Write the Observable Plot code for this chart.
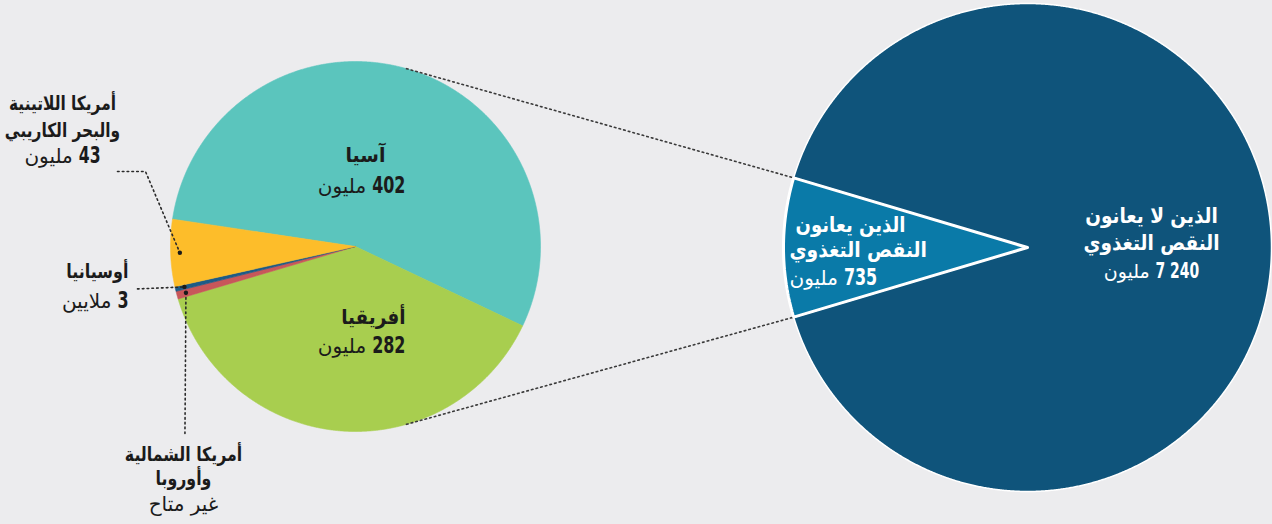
<!DOCTYPE html>
<html><head><meta charset="utf-8">
<script src="https://cdn.jsdelivr.net/npm/d3@7"></script>
<script src="https://cdn.jsdelivr.net/npm/@observablehq/plot@0.6"></script>
<style>
html,body{margin:0;padding:0;background:#ececee;}
#chart{width:1272px;height:524px;overflow:hidden}
#chart svg text{font-family:"DejaVu Sans",sans-serif;}
</style></head><body><div id="chart"></div>
<script>
// ---- data ----
const regions = ["آسيا", "أفريقيا", "أمريكا الشمالية وأوروبا", "أوسيانيا", "أمريكا اللاتينية والبحر الكاريبي"];
const hungryMillions = [402, 282, 5, 3, 43]; // North America & Europe: not available, slice estimated
const regionColors = ["#5bc5bd", "#a8ce4f", "#c8575a", "#1d5b87", "#fdbd2a"];
const regionNameLines = [["آسيا"], ["أفريقيا"], ["أمريكا الشمالية", "وأوروبا"], ["أوسيانيا"], ["أمريكا اللاتينية", "والبحر الكاريبي"]];
const regionValueLabels = ["402 مليون", "282 مليون", "غير متاح", "3 ملايين", "43 مليون"];

const globalGroups = ["الذين يعانون النقص التغذوي", "الذين لا يعانون النقص التغذوي"];
const globalMillions = [735, 7240];
const globalColors = ["#0a7aa8", "#0f547b"];
const globalNameLines = [["الذين يعانون", "النقص التغذوي"], ["الذين لا يعانون", "النقص التغذوي"]];
const globalValueLabels = ["735 مليون", "7 240 مليون"];

// ---- layout ----
const W = 1272, H = 524, deg = Math.PI / 180;
const SMALL = {cx: 355, cy: 246, r: 185, start: -81.5 * deg};
const bigShare = globalMillions[0] / d3.sum(globalMillions);
const BIG = {cx: 1027, cy: 247, r: 244, start: -90 * deg - bigShare * Math.PI};

const pt = (g, a, r) => ({x: g.cx + r * Math.sin(a), y: g.cy - r * Math.cos(a)});
function makeArcs(names, values, colors, g) {
  const rows = names.map((n, i) => ({name: n, value: values[i], color: colors[i], i}));
  return d3.pie().sort(null).value(d => d.value).startAngle(g.start).endAngle(g.start + 2 * Math.PI)(rows);
}
function poly(arc, g) {
  const pts = [{x: g.cx, y: g.cy}];
  const n = Math.max(2, Math.ceil((arc.endAngle - arc.startAngle) / (0.25 * deg)));
  for (let k = 0; k <= n; k++) pts.push(pt(g, arc.startAngle + (arc.endAngle - arc.startAngle) * k / n, g.r));
  pts.push({x: g.cx, y: g.cy});
  return pts;
}
const smallArcs = makeArcs(regions, hungryMillions, regionColors, SMALL);
const bigArcs = makeArcs(globalGroups, globalMillions, globalColors, BIG);
const mid = a => (a.startAngle + a.endAngle) / 2;

// connectors between pies
const hungryArc = bigArcs[0];
const connTop = [pt(SMALL, 16 * deg, SMALL.r), pt(BIG, hungryArc.endAngle, BIG.r)];
const connBot = [pt(SMALL, 164 * deg, SMALL.r), pt(BIG, hungryArc.startAngle, BIG.r)];

// leader dots for the small slices
const dotNA = pt(SMALL, mid(smallArcs[2]), 0.95 * SMALL.r);
const dotOc = pt(SMALL, mid(smallArcs[3]), 0.95 * SMALL.r);
const dotLA = pt(SMALL, mid(smallArcs[4]), 0.95 * SMALL.r);
const leaders = [
  [{x: 117, y: 171}, {x: 145, y: 171}, dotLA],
  [{x: 137, y: dotOc.y + 2}, dotOc],
  [dotNA, {x: dotNA.x - 1, y: 434}]
];

// label placement (sx = horizontal condensing of the line)
const dark = "#1b1b1b";
const labels = [
  {lines: [regionNameLines[0][0], regionValueLabels[0]], anchor: "end", xs: [385, 405], ys: [155, 186], w: ["bold", "normal"], sizes: [20, 20], sx: [0.95, 1], num: 23.5, fill: dark},
  {lines: [regionNameLines[1][0], regionValueLabels[1]], anchor: "end", xs: [405, 405], ys: [317, 346], w: ["bold", "normal"], sizes: [20, 20], sx: [0.92, 1], num: 23.5, fill: dark},
  {lines: [...regionNameLines[4], regionValueLabels[4]], anchor: "middle", xs: [62, 62, 62], ys: [103, 130, 156], w: ["bold", "bold", "normal"], sizes: [19.5, 19.5, 20], sx: [0.79, 0.79, 1], num: 23, fill: dark},
  {lines: [regionNameLines[3][0], regionValueLabels[3]], anchor: "end", xs: [128, 128], ys: [271, 301], w: ["bold", "normal"], sizes: [19.5, 20], sx: [0.82, 1], num: 23.5, fill: dark},
  {lines: [...regionNameLines[2], regionValueLabels[2]], anchor: "middle", xs: [183, 183, 183], ys: [454, 478, 504], w: ["bold", "bold", "normal"], sizes: [19.5, 19.5, 20], sx: [0.81, 0.81, 1], num: 23.5, fill: dark},
  {lines: [...globalNameLines[1], globalValueLabels[1]], anchor: "middle", xs: [1151, 1151, 1151], ys: [216, 243, 271], w: ["bold", "bold", "normal"], sizes: [21, 21, 19], sx: [0.88, 0.88, 1], num: 20.5, fill: "#ffffff"},
  {lines: [...globalNameLines[0], globalValueLabels[0]], anchor: "start", xs: [795, 789, 789], ys: [225, 250, 278], w: ["bold", "bold", "normal"], sizes: [21, 21, 20], sx: [0.86, 0.89, 1], num: 23.5, fill: "#ffffff"}
];
const lineSpecs = [];
labels.forEach(L => L.lines.forEach((t, k) => lineSpecs.push({
  t, x: L.xs[k], y: L.ys[k], anchor: L.anchor, size: L.sizes[k], w: L.w[k], sx: L.sx[k], num: L.num, fill: L.fill
})));

const marks = [];
// small pie
smallArcs.forEach(a => marks.push(Plot.line(poly(a, SMALL), {x: "x", y: "y", fill: a.data.color, stroke: a.data.color, strokeWidth: 0.6, curve: "linear"})));
// connectors
[connTop, connBot].forEach(c => marks.push(Plot.line(c, {x: "x", y: "y", stroke: "#3a3a3a", strokeWidth: 1.6, strokeDasharray: "1.6,3.2"})));
// big pie: dark part then highlighted slice
marks.push(Plot.line(poly(bigArcs[1], BIG), {x: "x", y: "y", fill: bigArcs[1].data.color, stroke: "#ffffff", strokeWidth: 1.5, curve: "linear"}));
marks.push(Plot.line(poly(bigArcs[0], BIG), {x: "x", y: "y", fill: bigArcs[0].data.color, stroke: "#ffffff", strokeWidth: 3, strokeLinejoin: "miter", curve: "linear"}));
// leaders
leaders.forEach(l => marks.push(Plot.line(l, {x: "x", y: "y", stroke: "#2a2a2a", strokeWidth: 1.6, strokeDasharray: "1.6,3.2"})));
marks.push(Plot.dot([dotLA, dotOc, dotNA], {x: "x", y: "y", r: 2.2, fill: "#1a1a1a"}));
// labels (one text mark per line, in lineSpecs order)
lineSpecs.forEach(s => marks.push(Plot.text([s], {
  x: "x", y: "y", text: "t", textAnchor: s.anchor, fill: s.fill, fontSize: s.size, fontWeight: s.w
})));

const chart = Plot.plot({
  width: W, height: H, margin: 0,
  x: {domain: [0, W], range: [0, W], axis: null},
  y: {domain: [0, H], range: [0, H], axis: null},
  style: {background: "transparent", overflow: "visible"},
  marks
});
document.getElementById("chart").appendChild(chart);

// typographic finishing: condensed lines, bold condensed numbers before the unit word
const NSX = 0.68, svgns = "http://www.w3.org/2000/svg";
const texts = Array.from(chart.querySelectorAll("text"));
lineSpecs.forEach((s, i) => {
  const text = texts[i];
  if (!text) return;
  const g = text.parentNode;
  const m = s.t.match(/^(\d[\d ]*) (\D+)$/);
  text.removeAttribute("x"); text.removeAttribute("y"); text.removeAttribute("transform");
  text.setAttribute("dy", (0.32 * s.size).toFixed(2));
  if (!m) {
    text.setAttribute("text-anchor", s.anchor);
    text.setAttribute("transform", `translate(${s.x},${s.y}) scale(${s.sx},1)`);
    return;
  }
  text.textContent = m[2];
  text.setAttribute("text-anchor", "start");
  const wordW = text.getComputedTextLength();
  const num = document.createElementNS(svgns, "text");
  num.setAttribute("font-weight", "bold");
  num.setAttribute("font-size", s.num);
  num.setAttribute("text-anchor", "start");
  num.setAttribute("dy", (0.32 * s.size).toFixed(2));
  num.textContent = m[1];
  g.appendChild(num);
  const numW = num.getComputedTextLength() * NSX;
  const gap = 0.3 * s.size;
  const total = wordW + gap + numW;
  const left = s.anchor === "end" ? s.x - total : s.anchor === "middle" ? s.x - total / 2 : s.x;
  text.setAttribute("transform", `translate(${left.toFixed(2)},${s.y})`);
  num.setAttribute("transform", `translate(${(left + wordW + gap).toFixed(2)},${s.y}) scale(${NSX},1)`);
});
</script></body></html>
